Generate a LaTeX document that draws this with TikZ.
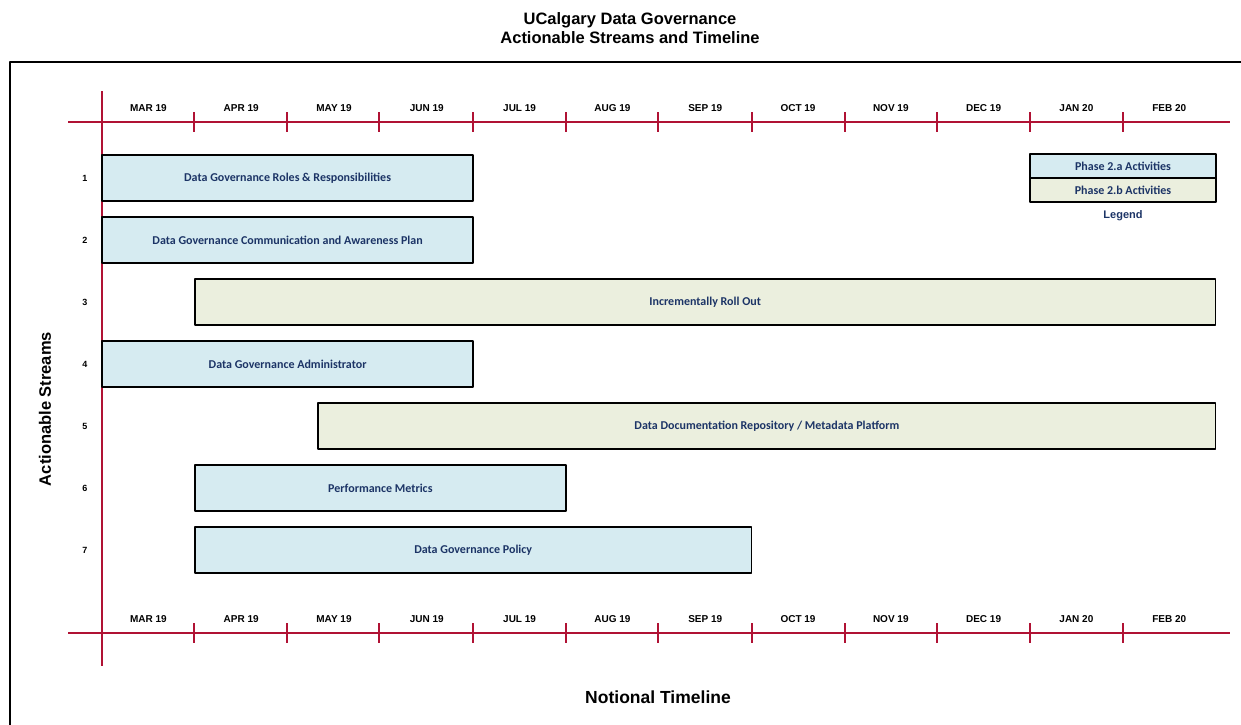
\documentclass[tikz,border=0pt]{standalone}
\usepackage{fontspec}
\setmainfont{Liberation Sans}
\newfontfamily\barfont{Carlito}
\definecolor{axisred}{RGB}{176,18,52}
\definecolor{phaseA}{RGB}{214,235,241}
\definecolor{phaseB}{RGB}{235,239,222}
\definecolor{bartext}{RGB}{28,52,102}
\tikzset{
  axis/.style={axisred, line width=2pt},
  month/.style={font=\fontsize{10}{12}\bfseries},
  rownum/.style={font=\fontsize{9}{11}\bfseries},
  bar/.style={draw=black, line width=1.5pt, fill=#1, minimum height=46, inner sep=0pt, outer sep=0pt,
    text=bartext, font=\barfont\fontsize{12}{14}\bfseries},
  bigtitle/.style={font=\fontsize{16.5}{19}\bfseries, align=center}
}
\begin{document}
\begin{tikzpicture}[x=1pt, y=-1pt, line join=round]
\useasboundingbox (0,0) rectangle (1241,724);
\def\xo{102} \def\dx{92.8}
\def\ytop{122} \def\ybot{633}
% title and frame
\node[bigtitle] (title) at (630,28) {UCalgary Data Governance\\Actionable Streams and Timeline};
\begin{scope}
\clip (0,0) rectangle (1241,724);
\draw[line width=1.8pt] (10,760) |- (1280,62);
\end{scope}
% axes
\draw[axis] (68,\ytop) -- (1230,\ytop);
\draw[axis] (68,\ybot) -- (1230,\ybot);
\draw[axis] (\xo,91) -- (\xo,666);
\foreach \x in {194,287,379,473,566,658,752,845,937,1030,1123}{
  \draw[axis] (\x,{\ytop-10}) -- ++(0,20);
  \draw[axis] (\x,{\ybot-10}) -- ++(0,20);
}
\foreach \m [count=\i from 0] in {MAR 19,APR 19,MAY 19,JUN 19,JUL 19,AUG 19,SEP 19,OCT 19,NOV 19,DEC 19,JAN 20,FEB 20}{
  \node[month] (top\i) at ({\xo+(\i+0.5)*\dx},108) {\m};
  \node[month] (bot\i) at ({\xo+(\i+0.5)*\dx},619) {\m};
}
% streams
\foreach \n/\a/\b/\c/\t in {
  1/0/4/phaseA/{Data Governance Roles \& Responsibilities},
  2/0/4/phaseA/{Data Governance Communication and Awareness Plan},
  3/1/12/phaseB/{Incrementally Roll Out},
  4/0/4/phaseA/{Data Governance Administrator},
  5/2.33/12/phaseB/{Data Documentation Repository / Metadata Platform},
  6/1/5/phaseA/{Performance Metrics},
  7/1/7/phaseA/{Data Governance Policy}}{
  \node[bar=\c, minimum width={(\b-\a)*\dx}] (bar\n) at ({\xo+(\a+\b)/2*\dx},{116+62*\n}) {\t};
  \node[rownum] (num\n) at (85,{116+62*\n}) {\n};
}
% legend
\node[bar=phaseA, minimum width=186, minimum height=24] (legA) at (1123,166) {Phase 2.a Activities};
\node[bar=phaseB, minimum width=186, minimum height=24] (legB) at (1123,190) {Phase 2.b Activities};
\node[text=bartext, font=\fontsize{11}{13}\bfseries] (legend) at (1123,216) {Legend};
% axis titles
\node[bigtitle, rotate=90] (streams) at (45,409) {Actionable Streams};
\node[bigtitle, font=\fontsize{17.5}{20}\bfseries] (timeline) at (658,697) {Notional Timeline};
\end{tikzpicture}
\end{document}
